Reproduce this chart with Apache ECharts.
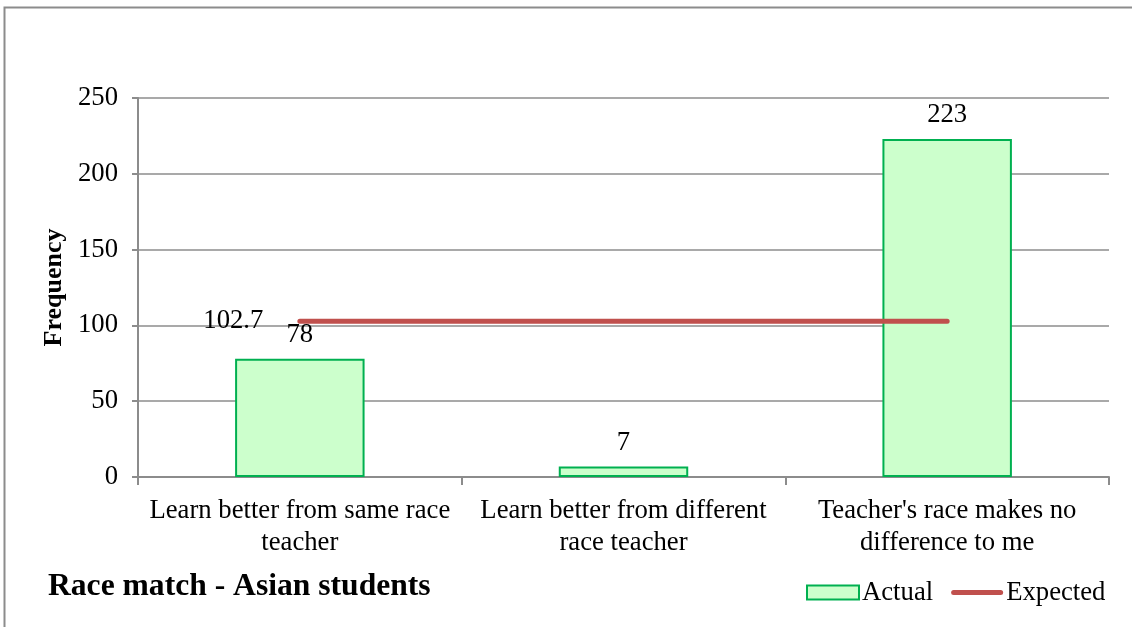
<!DOCTYPE html>
<html>
<head>
<meta charset="utf-8">
<title>Race match - Asian students</title>
<script src="https://cdn.jsdelivr.net/npm/echarts@6/dist/echarts.min.js"></script>
<style>
  html, body { margin: 0; padding: 0; background: #ffffff; }
  #chart { width: 1132px; height: 627px; }
</style>
</head>
<body>
<div id="chart"></div>
<script>
// Survey responses on teacher race preference (Asian students)
const categories = [
  'Learn better from same race\nteacher',
  'Learn better from different\nrace teacher',
  "Teacher's race makes no\ndifference to me"
];
const actualValues = [78, 7, 223];
const expectedValues = [102.7, 102.7, 102.7];
const yTicks = { min: 0, max: 250, interval: 50 };

const FONT = '"Liberation Serif", "Times New Roman", serif';
const AXIS_GRAY = '#8c8c8c';
const EXPECTED_RED = '#c0504d';

const chart = echarts.init(document.getElementById('chart'), null, { renderer: 'canvas' });

chart.setOption({
  backgroundColor: '#ffffff',
  animation: false,
  textStyle: { fontFamily: FONT, color: '#000' },
  title: {
    text: 'Race match - Asian students',
    left: 43,
    top: 566,
    textStyle: { fontFamily: FONT, fontSize: 31.6, fontWeight: 'bold', color: '#000' }
  },
  legend: {
    left: 801,
    top: 574,
    itemGap: 18,
    itemWidth: 52,
    itemHeight: 14,
    textStyle: { fontFamily: FONT, fontSize: 26.7, color: '#000', padding: [0, 0, 0, -2] },
    data: [
      { name: 'Actual', icon: 'rect' },
      {
        name: 'Expected',
        // thick rounded bar standing for the expected line
        icon: 'path://M2.5,0 L49.5,0 A2.5,2.5 0 0 1 49.5,5 L2.5,5 A2.5,2.5 0 0 1 2.5,0 Z',
        itemStyle: { color: EXPECTED_RED, opacity: 1 }
      }
    ]
  },
  graphic: [{
    type: 'rect',
    shape: { x: 4.5, y: 7.5, width: 1200, height: 700 },
    style: { fill: 'none', stroke: AXIS_GRAY, lineWidth: 2 },
    silent: true,
    z: 100
  }],
  grid: { left: 138, right: 23, top: 98, bottom: 150 },
  xAxis: {
    type: 'category',
    data: categories,
    axisLine: { show: true, lineStyle: { color: AXIS_GRAY, width: 2 } },
    axisTick: { show: true, length: 8, alignWithLabel: false, lineStyle: { color: AXIS_GRAY, width: 2 } },
    axisLabel: {
      fontFamily: FONT, fontSize: 26.7, color: '#000', lineHeight: 32, margin: 18,
      interval: 0, align: 'center'
    },
    splitLine: { show: false }
  },
  yAxis: {
    type: 'value',
    min: yTicks.min,
    max: yTicks.max,
    interval: yTicks.interval,
    name: 'Frequency',
    nameLocation: 'middle',
    nameGap: 70,
    nameRotate: 90,
    nameTextStyle: { fontFamily: FONT, fontSize: 26, fontWeight: 'bold', color: '#000' },
    axisLine: { show: true, lineStyle: { color: AXIS_GRAY, width: 2 } },
    axisTick: { show: true, inside: false, length: 6, lineStyle: { color: AXIS_GRAY, width: 2 } },
    axisLabel: { fontFamily: FONT, fontSize: 26.7, color: '#000', margin: 20, padding: [6, 0, 0, 0] },
    splitLine: { show: true, lineStyle: { color: AXIS_GRAY, width: 1.5 } }
  },
  series: [
    {
      name: 'Actual',
      type: 'bar',
      data: actualValues,
      barWidth: '40%',
      itemStyle: { color: '#ccffcc', borderColor: '#00b050', borderWidth: 2 },
      label: {
        show: true,
        position: 'top',
        distance: 10,
        fontFamily: FONT,
        fontSize: 26.7,
        color: '#000'
      },
      z: 2
    },
    {
      name: 'Expected',
      type: 'line',
      data: expectedValues,
      symbol: 'circle',
      symbolSize: 1,
      showSymbol: true,
      lineStyle: { color: EXPECTED_RED, width: 5, cap: 'round' },
      itemStyle: { color: EXPECTED_RED },
      labelLayout: { hideOverlap: false },
      label: {
        show: true,
        position: 'left',
        distance: 36,
        offset: [0, 4],
        fontFamily: FONT,
        fontSize: 26.7,
        color: '#000',
        // the value is written once, at the start of the line
        formatter: p => (p.dataIndex === 0 ? String(p.value) : '')
      },
      z: 3
    }
  ]
});
</script>
</body>
</html>
